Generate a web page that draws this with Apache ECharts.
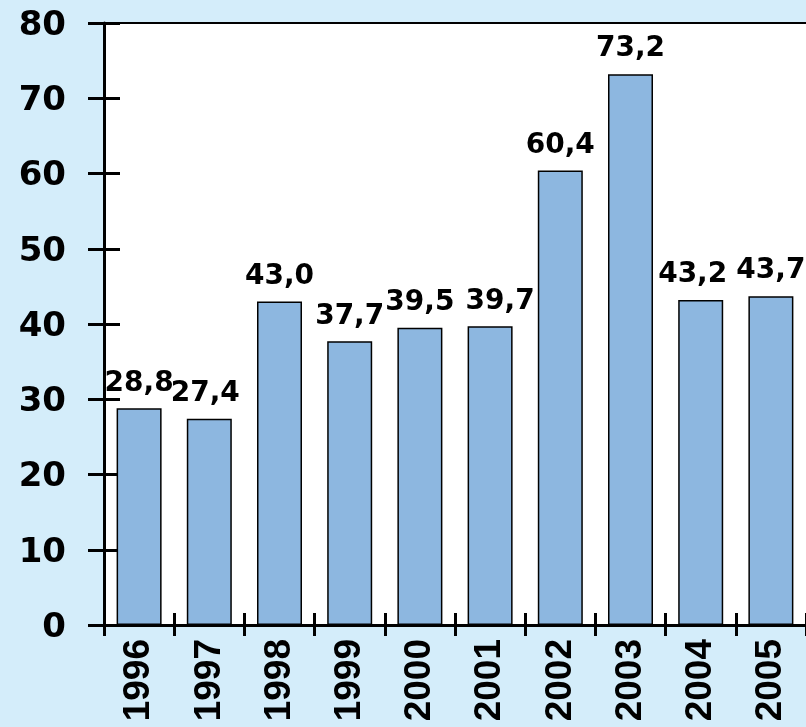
<!DOCTYPE html>
<html>
<head>
<meta charset="utf-8">
<script src="https://cdn.jsdelivr.net/npm/echarts@6/dist/echarts.min.js"></script>
<style>
html, body { margin: 0; padding: 0; background: #d4edfa; }
#chart { width: 806px; height: 727px; }
</style>
</head>
<body>
<div id="chart"></div>
<script>
var years = ['1996', '1997', '1998', '1999', '2000', '2001', '2002', '2003', '2004', '2005'];
var values = [28.8, 27.4, 43.0, 37.7, 39.5, 39.7, 60.4, 73.2, 43.2, 43.7];
var yTicks = [0, 10, 20, 30, 40, 50, 60, 70, 80];

var BAR_COLOR = '#8db7e0';
var BG_COLOR = '#d4edfa';
// small nudges of the value labels, as in the original drawing
var labelNudge = [0, -4, 0, 0, 0, 10, 0, 0, -8, 0];

var chart = echarts.init(document.getElementById('chart'));

var barData = [];
for (var i = 0; i < values.length; i++) {
	barData.push({ value: values[i], label: { offset: [labelNudge[i], 0] } });
}

// tick marks cross the axis: one axis draws them outside, a twin draws them inside
var option = {
	backgroundColor: BG_COLOR,
	animation: false,
	grid: {
		left: 104,
		top: 23,
		bottom: 102,
		width: 704,
		show: true,
		backgroundColor: '#ffffff',
		borderWidth: 0
	},
	xAxis: [{
		type: 'category',
		data: years,
		position: 'bottom',
		axisLine: { lineStyle: { color: '#000', width: 3 } },
		axisTick: { show: true, length: 11, lineStyle: { color: '#000', width: 3 } },
		axisLabel: {
			rotate: 90,
			margin: 14,
			color: '#000',
			fontFamily: 'Liberation Sans',
			fontWeight: 'bold',
			fontSize: 37
		}
	}, {
		type: 'category',
		data: years,
		position: 'bottom',
		axisLine: { show: false },
		axisTick: { show: true, inside: true, length: 12, lineStyle: { color: '#000', width: 3 } },
		axisLabel: { show: false }
	}, {
		type: 'category',
		data: years,
		position: 'top',
		axisLine: { onZero: false, lineStyle: { color: '#000', width: 2 } },
		axisTick: { show: false },
		axisLabel: { show: false }
	}],
	yAxis: [{
		type: 'value',
		min: yTicks[0],
		max: yTicks[yTicks.length - 1],
		interval: 10,
		position: 'left',
		splitLine: { show: false },
		axisLine: { show: true, lineStyle: { color: '#000', width: 3 } },
		axisTick: { show: true, length: 16, lineStyle: { color: '#000', width: 3 } },
		axisLabel: {
			margin: 38,
			verticalAlign: 'top',
			lineHeight: 6,
			color: '#000',
			fontFamily: 'DejaVu Sans',
			fontWeight: 'bold',
			fontSize: 34
		}
	}, {
		type: 'value',
		min: yTicks[0],
		max: yTicks[yTicks.length - 1],
		interval: 10,
		position: 'left',
		splitLine: { show: false },
		axisLine: { show: false },
		axisTick: { show: true, inside: true, length: 16, lineStyle: { color: '#000', width: 3 } },
		axisLabel: { show: false }
	}],
	series: [{
		type: 'bar',
		xAxisIndex: 0,
		yAxisIndex: 0,
		data: barData,
		barWidth: 45,
		itemStyle: {
			color: BAR_COLOR,
			borderColor: '#000',
			borderWidth: 1.5
		},
		label: {
			show: true,
			position: 'top',
			distance: 11,
			color: '#000',
			fontFamily: 'DejaVu Sans',
			fontWeight: 'bold',
			fontSize: 28,
			formatter: function (p) {
				return p.value.toFixed(1).replace('.', ',');
			}
		}
	}]
};

chart.setOption(option);
</script>
</body>
</html>
